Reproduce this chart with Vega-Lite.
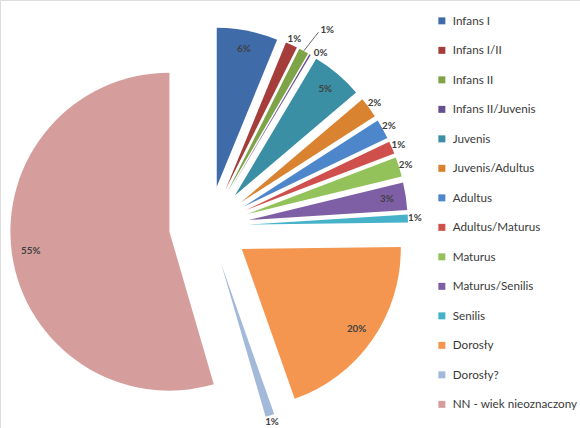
{
  "$schema": "https://vega.github.io/schema/vega-lite/v6.json",
  "width": 580,
  "height": 428,
  "autosize": "none",
  "padding": 0,
  "background": "white",
  "data": {
    "values": [
      {"order": 1, "category": "Infans I", "value": 6.2, "label": "6%"},
      {"order": 2, "category": "Infans I/II", "value": 1.2, "label": "1%"},
      {"order": 3, "category": "Infans II", "value": 1.0, "label": "1%"},
      {"order": 4, "category": "Infans II/Juvenis", "value": 0.15, "label": "0%"},
      {"order": 5, "category": "Juvenis", "value": 5.25, "label": "5%"},
      {"order": 6, "category": "Juvenis/Adultus", "value": 2.1, "label": "2%"},
      {"order": 7, "category": "Adultus", "value": 2.0, "label": "2%"},
      {"order": 8, "category": "Adultus/Maturus", "value": 1.3, "label": "1%"},
      {"order": 9, "category": "Maturus", "value": 2.0, "label": "2%"},
      {"order": 10, "category": "Maturus/Senilis", "value": 2.8, "label": "3%"},
      {"order": 11, "category": "Senilis", "value": 0.8, "label": "1%"},
      {"order": 12, "category": "Dorosły", "value": 19.8, "label": "20%"},
      {"order": 13, "category": "Dorosły?", "value": 0.9, "label": "1%"},
      {"order": 14, "category": "NN - wiek nieoznaczony", "value": 54.5, "label": "55%"}
    ]
  },
  "transform": [
    {"window": [{"op": "sum", "field": "value", "as": "cum"}], "sort": [{"field": "order"}], "frame": [null, 0]},
    {"joinaggregate": [{"op": "sum", "field": "value", "as": "total"}]},
    {"calculate": "2*PI*(datum.cum - datum.value/2)/datum.total", "as": "mid"},
    {"calculate": "sin(datum.mid)", "as": "ex"},
    {"calculate": "cos(datum.mid)", "as": "ey"},
    {"calculate": "datum.category === 'Infans II'", "as": "leader"},
    {"calculate": "datum.value >= 2.5 ? 3.5 : (datum.leader ? 4.72 : 4.15)", "as": "lr"},
    {"calculate": "datum.mid + (datum.leader ? 0.057 : (datum.value < 0.5 ? 0.05 : 0))", "as": "la"},
    {"calculate": "datum.ex + datum.lr*sin(datum.la)", "as": "lx"},
    {"calculate": "datum.ey + datum.lr*cos(datum.la)", "as": "ly"},
    {"calculate": "datum.ex*4.98", "as": "kx1"},
    {"calculate": "datum.ey*4.98", "as": "ky1"},
    {"calculate": "datum.lx - 0.22", "as": "kx2"},
    {"calculate": "datum.ly - 0.05", "as": "ky2"}
  ],
  "layer": [
    {
      "mark": {"type": "arc", "outerRadius": 159},
      "encoding": {
        "theta": {"field": "value", "type": "quantitative", "stack": true},
        "order": {"field": "order", "type": "quantitative"},
        "color": {
          "field": "category",
          "type": "nominal",
          "sort": null,
          "scale": {
            "domain": ["Infans I", "Infans I/II", "Infans II", "Infans II/Juvenis", "Juvenis", "Juvenis/Adultus", "Adultus", "Adultus/Maturus", "Maturus", "Maturus/Senilis", "Senilis", "Dorosły", "Dorosły?", "NN - wiek nieoznaczony"],
            "range": ["#3F6BA8", "#A53E3B", "#7FA347", "#67508E", "#3A8FA4", "#D9822F", "#4E86CC", "#CF4F4C", "#93C25A", "#7E5FA6", "#46B2C9", "#F59650", "#A3B9DA", "#D59E9D"]
          },
          "legend": {
            "title": null,
            "orient": "none",
            "legendX": 436,
            "legendY": 15,
            "symbolType": "square",
            "symbolSize": 49,
            "symbolStrokeWidth": 0,
            "labelFont": "Lato",
            "labelFontSize": 11.7,
            "labelColor": "#3a3a3a",
            "labelLimit": 200,
            "rowPadding": 16.5,
            "labelOffset": 5
          }
        },
        "x": {"field": "ex", "type": "quantitative", "scale": {"domain": [-5.225, 9.275], "nice": false, "zero": false}, "axis": null},
        "y": {"field": "ey", "type": "quantitative", "scale": {"domain": [-5.05, 5.65], "nice": false, "zero": false}, "axis": null}
      }
    },
    {
      "transform": [{"filter": "datum.leader"}],
      "mark": {"type": "rule", "color": "#404040", "strokeWidth": 0.8},
      "encoding": {
        "x": {"field": "kx1", "type": "quantitative"},
        "y": {"field": "ky1", "type": "quantitative"},
        "x2": {"field": "kx2"},
        "y2": {"field": "ky2"}
      }
    },
    {
      "mark": {"type": "text", "font": "Lato", "fontSize": 9.8, "fontWeight": "bold", "color": "#404040", "align": "center", "baseline": "middle"},
      "encoding": {
        "x": {"field": "lx", "type": "quantitative"},
        "y": {"field": "ly", "type": "quantitative"},
        "text": {"field": "label", "type": "nominal"}
      }
    }
  ]
}
